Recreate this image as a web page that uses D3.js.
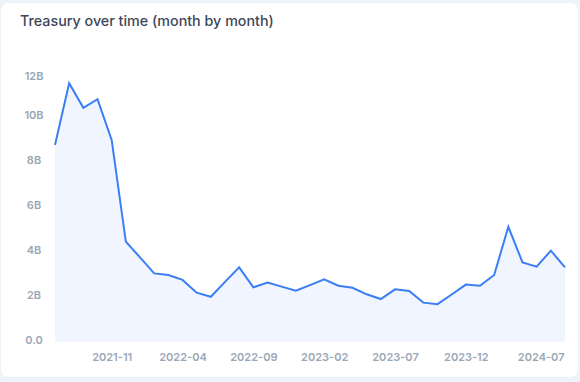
<!DOCTYPE html>
<html><head><meta charset="utf-8">
<script src="https://cdn.jsdelivr.net/npm/d3@7/dist/d3.min.js"></script>
<style>
html,body{margin:0;padding:0;background:#eef2f9;}
svg{display:block;font-family:Inter,"Noto Sans",sans-serif;}
</style></head>
<body>
<svg id="c" width="580" height="382"></svg>
<script>
const title = "Treasury over time (month by month)";
const months = ["2021-07","2021-08","2021-09","2021-10","2021-11","2021-12","2022-01","2022-02","2022-03","2022-04",
"2022-05","2022-06","2022-07","2022-08","2022-09","2022-10","2022-11","2022-12","2023-01","2023-02",
"2023-03","2023-04","2023-05","2023-06","2023-07","2023-08","2023-09","2023-10","2023-11","2023-12",
"2024-02","2024-03","2024-04","2024-06","2024-07","2024-08","2024-09"];
const treasury = [8.76,11.50,10.41,10.79,8.98,4.46,3.76,3.05,2.98,2.76,
2.19,2.01,2.67,3.32,2.43,2.64,2.46,2.28,2.53,2.79,
2.50,2.41,2.12,1.91,2.34,2.27,1.75,1.68,2.11,2.55,
2.50,2.98,5.12,3.54,3.35,4.06,3.32]; // billions
const yTicks = [0,2,4,6,8,10,12];
const yTickLabels = ["0.0","2B","4B","6B","8B","10B","12B"];
const xTickLabels = ["2021-11","2022-04","2022-09","2023-02","2023-07","2023-12","2024-07"];

const svg = d3.select("#c");
svg.append("rect").attr("x",1).attr("y",3).attr("width",577).attr("height",374)
  .attr("rx",8).attr("fill","#ffffff");

svg.append("text").attr("x",20).attr("y",26).text(title)
  .attr("fill","#3d4759").attr("font-size",14.3).attr("font-weight",500);

const x = d3.scalePoint().domain(months).range([55,565]);
const y = d3.scaleLinear().domain([0,12]).range([342,72]);

const data = months.map((m,i)=>({m, v:treasury[i]}));

svg.append("path").datum(data)
  .attr("d", d3.area().x(d=>x(d.m)).y0(y(0)).y1(d=>y(d.v)))
  .attr("fill","#f0f5ff");
svg.append("path").datum(data)
  .attr("d", d3.line().x(d=>x(d.m)).y(d=>y(d.v)))
  .attr("fill","none").attr("stroke","#3a7ef5").attr("stroke-width",2).attr("stroke-linejoin","miter");

const yAxis = d3.axisLeft(y).tickValues(yTicks).tickSize(0)
  .tickFormat((d,i)=>yTickLabels[i]);
const yg = svg.append("g").attr("transform","translate(34,0)").call(yAxis);
yg.select(".domain").remove();
yg.selectAll("text").attr("text-anchor","middle").attr("x",0)
  .attr("dy",(d)=> d===12 ? "0.7em" : "0.15em")
  .attr("fill","#9aa7b6").attr("font-size",11).attr("font-weight",600)
  .attr("font-family","Inter,'Noto Sans',sans-serif");

const xAxis = d3.axisBottom(x).tickValues(xTickLabels).tickSize(0);
const xg = svg.append("g").attr("transform","translate(0,352)").call(xAxis);
xg.select(".domain").remove();
xg.selectAll("text").attr("dy","0.55em")
  .attr("dx",(d,i)=> i===xTickLabels.length-1 ? 4 : 0)
  .attr("fill","#9aa7b6").attr("font-size",11).attr("font-weight",600)
  .attr("font-family","Inter,'Noto Sans',sans-serif");
</script>
</body></html>
